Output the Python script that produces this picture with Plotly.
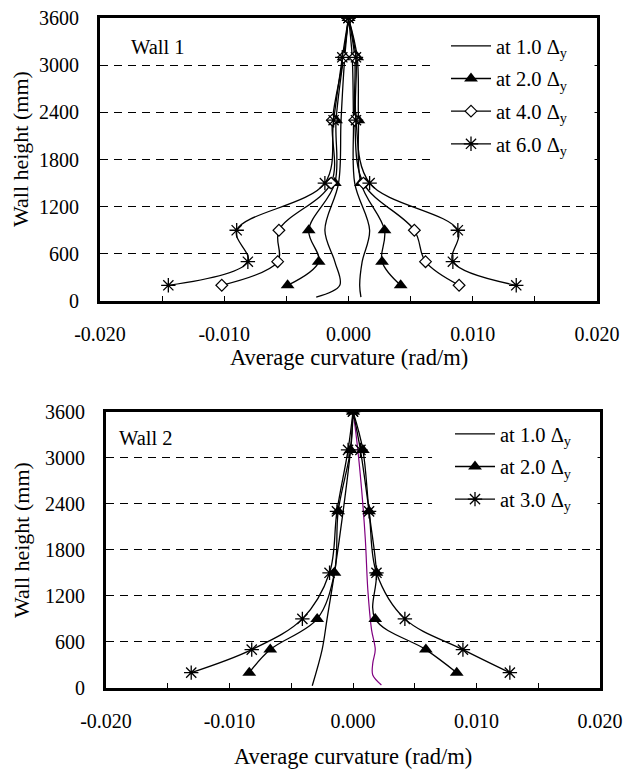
import plotly.graph_objects as go

# ---------------- Data ----------------
# Wall 1 (heights in mm, curvature in rad/m)
w1_h = [200, 500, 900, 1500, 2300, 3100, 3600]
w1_h10 = [50, 200, 500, 900, 1500, 2300, 3100, 3600]
w1_10_neg = [-0.0026, -0.0007, -0.0011, -0.0019, -0.0008, -0.0006, -0.0003, 0.0]
w1_10_pos = [0.0010, 0.0009, 0.0011, 0.0017, 0.0005, 0.0004, 0.0003, 0.0]
w1_20_neg = [-0.0049, -0.0024, -0.0032, -0.0011, -0.0010, -0.0004, 0.0]
w1_20_pos = [0.0042, 0.0027, 0.0029, 0.0010, 0.0008, 0.0007, 0.0]
w1_40_neg = [-0.0102, -0.0057, -0.0056, -0.0014, -0.0013, -0.0004, 0.0]
w1_40_pos = [0.0089, 0.0062, 0.0053, 0.0012, 0.0005, 0.0005, 0.0]
w1_60_neg = [-0.0145, -0.0081, -0.0090, -0.0019, -0.0012, -0.0005, 0.0]
w1_60_pos = [0.0135, 0.0084, 0.0088, 0.0017, 0.0006, 0.0006, 0.0]

# Wall 2
w2_h = [200, 500, 900, 1500, 2300, 3100, 3600]
w2_h10n = [30, 500, 900, 1500, 2300, 3100, 3600]
w2_10_neg = [-0.0033, -0.0025, -0.0021, -0.0015, -0.0008, -0.0002, 0.0]
w2_h10p = [40, 170, 320, 500, 760, 1280, 1930, 2580, 3230, 3600]
w2_10_pos = [0.0023, 0.0016, 0.0016, 0.0018, 0.0015, 0.0012, 0.0010, 0.0007, 0.0003, 0.0]
w2_20_neg = [-0.0084, -0.0067, -0.0029, -0.0015, -0.0012, -0.0002, 0.0]
w2_20_pos = [0.0084, 0.0059, 0.0018, 0.0019, 0.0013, 0.0008, 0.0]
w2_30_neg = [-0.0131, -0.0082, -0.0041, -0.0019, -0.0013, -0.0004, 0.0]
w2_30_pos = [0.0127, 0.0089, 0.0042, 0.0019, 0.0013, 0.0006, 0.0]

x_tickvals = [-0.02, -0.01, 0.0, 0.01, 0.02]
x_ticktext = ["-0.020", "-0.010", "0.000", "0.010", "0.020"]
y_tickvals = [0, 600, 1200, 1800, 2400, 3000, 3600]
y_ticktext = ["0", "600", "1200", "1800", "2400", "3000", "3600"]

# ---------------- Layout geometry ----------------
W, H = 629, 771
FONT = "Liberation Serif"
top_dx = [100 / W, 597 / W]
top_dy = [1 - 301 / H, 1 - 18 / H]
bot_dx = [106 / W, 600 / W]
bot_dy = [1 - 688 / H, 1 - 411.5 / H]

fig = go.Figure()

MARK = {
    "tri": dict(symbol="triangle-up", size=12, color="black"),
    "dia": dict(symbol="diamond", size=9, color="white", line=dict(color="black", width=1.2)),
    "star": dict(symbol="asterisk-open", size=12, color="black", line=dict(color="black", width=1.3)),
}


def add(x, y, xa, ya, name, mk, group, legend, show, color="black", width=1.3):
    kw = dict(
        x=x, y=y, xaxis=xa, yaxis=ya, name=name, legendgroup=group,
        legend=legend, showlegend=show,
        line=dict(color=color, width=width, shape="spline", smoothing=1.0),
        hoverinfo="skip",
    )
    if mk is None:
        kw["mode"] = "lines"
    else:
        kw["mode"] = "lines+markers"
        kw["marker"] = MARK[mk]
    fig.add_trace(go.Scatter(**kw))


lab = lambda v: "at " + v + " Δ<sub>y</sub>"

# Wall 1
add(w1_10_neg, w1_h10, "x", "y", lab("1.0"), None, "a1", "legend", True)
add(w1_10_pos, w1_h10, "x", "y", lab("1.0"), None, "a1", "legend", False)
add(w1_20_neg, w1_h, "x", "y", lab("2.0"), "tri", "a2", "legend", True)
add(w1_20_pos, w1_h, "x", "y", lab("2.0"), "tri", "a2", "legend", False)
add(w1_40_neg, w1_h, "x", "y", lab("4.0"), "dia", "a4", "legend", True)
add(w1_40_pos, w1_h, "x", "y", lab("4.0"), "dia", "a4", "legend", False)
add(w1_60_neg, w1_h, "x", "y", lab("6.0"), "star", "a6", "legend", True)
add(w1_60_pos, w1_h, "x", "y", lab("6.0"), "star", "a6", "legend", False)

# Wall 2
add(w2_10_neg, w2_h10n, "x2", "y2", lab("1.0"), None, "b1", "legend2", True)
add(w2_10_pos, w2_h10p, "x2", "y2", lab("1.0"), None, "b1", "legend2", False, color="#800080", width=1.2)
add(w2_20_neg, w2_h, "x2", "y2", lab("2.0"), "tri", "b2", "legend2", True)
add(w2_20_pos, w2_h, "x2", "y2", lab("2.0"), "tri", "b2", "legend2", False)
add(w2_30_neg, w2_h, "x2", "y2", lab("3.0"), "star", "b3", "legend2", True)
add(w2_30_pos, w2_h, "x2", "y2", lab("3.0"), "star", "b3", "legend2", False)


def xax(dom, anchor):
    return dict(
        domain=dom, anchor=anchor, range=[-0.02, 0.02], automargin=False,
        tickmode="array", tickvals=x_tickvals, ticktext=x_ticktext,
        ticks="inside", ticklen=5, tickwidth=1, tickcolor="black",
        minor=dict(dtick=0.005, tick0=0, ticks="inside", ticklen=5, tickwidth=1, tickcolor="black"),
        showline=True, mirror=True, linewidth=3, linecolor="black",
        showgrid=False, zeroline=False,
        tickfont=dict(size=20, family=FONT, color="black"),
        ticklabelstandoff=13,
    )


def yax(dom, anchor):
    return dict(
        domain=dom, anchor=anchor, range=[0, 3600], automargin=False,
        tickmode="array", tickvals=y_tickvals, ticktext=y_ticktext,
        ticks="",
        showline=True, mirror=True, linewidth=3, linecolor="black",
        showgrid=True, gridcolor="black", gridwidth=1, griddash="8px,6px",
        zeroline=False,
        tickfont=dict(size=20, family=FONT, color="black"),
        ticklabelstandoff=14,
    )


def zax(dom_x, over):
    pos = dom_x[0] + 0.5 * (dom_x[1] - dom_x[0])
    return dict(
        overlaying=over, anchor="free", position=pos, side="right", automargin=False,
        range=[0, 3600], tick0=0, dtick=300,
        ticks="outside", ticklen=5, tickwidth=2, tickcolor="black",
        showline=True, linewidth=3, linecolor="black",
        showticklabels=False, showgrid=False, zeroline=False,
    )


leg_common = dict(
    xanchor="left", yanchor="top", bgcolor="rgba(0,0,0,0)", borderwidth=0,
    font=dict(size=20.5, family=FONT, color="black"), tracegroupgap=3,
    itemwidth=40,
)

# white panels behind the legends (gridlines stop there, as in the original)
shapes = [
    dict(type="rect", xref="x", yref="y", layer="between",
         x0=0.0066, x1=0.0198, y0=1500, y1=3580,
         fillcolor="white", line=dict(width=0)),
    dict(type="rect", xref="x2", yref="y2", layer="between",
         x0=0.0064, x1=0.0198, y0=2100, y1=3580,
         fillcolor="white", line=dict(width=0)),
]

fig.update_layout(
    template="none",
    width=W, height=H,
    margin=dict(l=0, r=0, t=0, b=0, autoexpand=False),
    paper_bgcolor="white", plot_bgcolor="white",
    font=dict(family=FONT, size=20, color="black"),
    showlegend=True,
    xaxis=xax(top_dx, "y"),
    yaxis=yax(top_dy, "x"),
    xaxis2=xax(bot_dx, "y2"),
    yaxis2=yax(bot_dy, "x2"),
    yaxis3=zax(top_dx, "y"),
    yaxis4=zax(bot_dx, "y2"),
    legend=dict(x=446 / W, y=1 - 26 / H, **leg_common),
    legend2=dict(x=450 / W, y=1 - 414 / H, **leg_common),
    shapes=shapes,
    annotations=[
        dict(text="Wall 1", x=129 / W, y=1 - 47 / H, xref="paper", yref="paper",
             xanchor="left", yanchor="middle", showarrow=False, font=dict(size=20.5)),
        dict(text="Wall 2", x=117 / W, y=1 - 438 / H, xref="paper", yref="paper",
             xanchor="left", yanchor="middle", showarrow=False, font=dict(size=20.5)),
        dict(text="Average curvature (rad/m)", x=349 / W, y=1 - 357 / H, xref="paper", yref="paper",
             xanchor="center", yanchor="middle", showarrow=False, font=dict(size=22.5)),
        dict(text="Average curvature (rad/m)", x=353 / W, y=1 - 756 / H, xref="paper", yref="paper",
             xanchor="center", yanchor="middle", showarrow=False, font=dict(size=22.5)),
        dict(text="Wall height (mm)", x=21 / W, y=1 - 149 / H, xref="paper", yref="paper",
             xanchor="center", yanchor="middle", textangle=-90, showarrow=False, font=dict(size=22)),
        dict(text="Wall height (mm)", x=21 / W, y=1 - 540 / H, xref="paper", yref="paper",
             xanchor="center", yanchor="middle", textangle=-90, showarrow=False, font=dict(size=22)),
    ],
)

fig.write_html(
    "out.html",
    config={"displayModeBar": False, "staticPlot": False},
    post_script="document.body.style.margin='0';document.body.style.overflow='hidden';",
)
